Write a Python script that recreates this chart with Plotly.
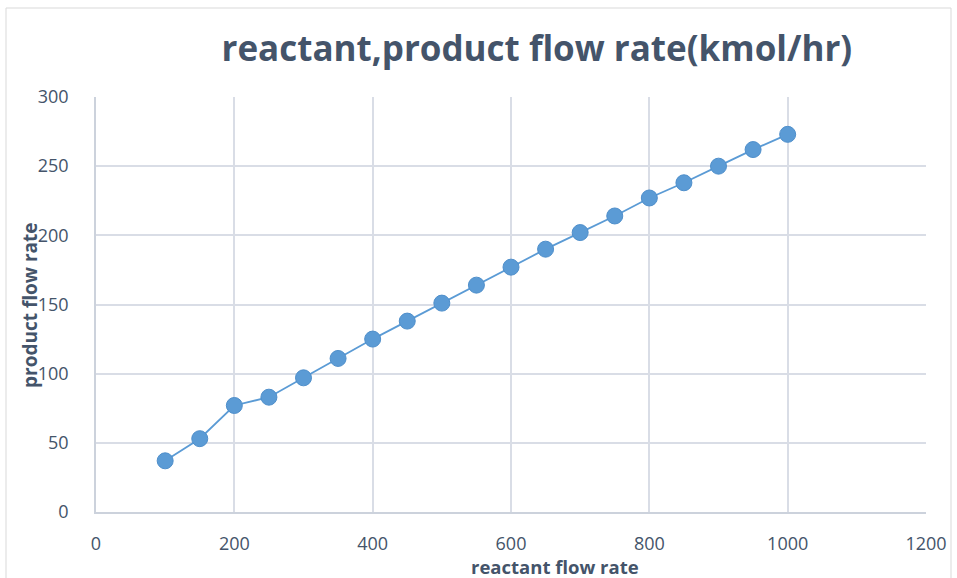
import plotly.graph_objects as go

reactant_flow = [100, 150, 200, 250, 300, 350, 400, 450, 500, 550, 600, 650, 700, 750, 800, 850, 900, 950, 1000]
product_flow = [37, 53, 77, 83, 97, 111, 125, 138, 151, 164, 177, 190, 202, 214, 227, 238, 250, 262, 273]

x_ticks = [0, 200, 400, 600, 800, 1000, 1200]
y_ticks = [0, 50, 100, 150, 200, 250, 300]

txt = "#44546a"
grid = "#d9dde6"
font_family = "Open Sans, Lato, sans-serif"

fig = go.Figure()
fig.add_trace(go.Scatter(
    x=reactant_flow, y=product_flow, mode="lines+markers",
    line=dict(color="#5b9bd5", width=1.8),
    marker=dict(color="#5b9bd5", size=16, line=dict(color="#4f8fcb", width=1)),
    showlegend=False,
))

fig.update_layout(
    width=957, height=578,
    margin=dict(l=96, r=31, t=97, b=66),
    paper_bgcolor="white", plot_bgcolor="white",
    font=dict(family=font_family, color=txt),
    title=dict(text="<b>reactant,product flow rate(kmol/hr)</b>", x=0.561, xanchor="center",
               y=0.915, yanchor="middle", font=dict(size=35, color=txt, family=font_family)),
    xaxis=dict(range=[0, 1200], tickvals=x_ticks, ticktext=[str(v) for v in x_ticks],
               showgrid=True, gridcolor=grid, gridwidth=1.5,
               showline=True, linecolor="#ccd2dc", linewidth=1.5,
               zeroline=False, ticks="", ticklabelstandoff=15, automargin=False,
               tickfont=dict(size=18, color=txt)),
    yaxis=dict(range=[0, 300], tickvals=y_ticks, ticktext=[str(v) for v in y_ticks],
               showgrid=True, gridcolor=grid, gridwidth=1.5,
               showline=True, linecolor="#ccd2dc", linewidth=1.5,
               zeroline=False, ticks="", ticklabelstandoff=22, automargin=False,
               tickfont=dict(size=18, color=txt)),
    annotations=[
        dict(text="<b>reactant flow rate</b>", xref="paper", yref="paper",
             x=(555 - 96) / 830, y=-(566 - 512) / 415, xanchor="center", yanchor="middle",
             showarrow=False, font=dict(size=18.5, color=txt, family=font_family)),
        dict(text="<b>product flow rate</b>", xref="paper", yref="paper",
             x=-(96 - 30) / 830, y=(512 - 305) / 415, xanchor="center", yanchor="middle",
             textangle=-90, showarrow=False, font=dict(size=19, color=txt, family=font_family)),
    ],
)

fig.add_shape(type="rect", xref="paper", yref="paper",
              x0=-96/830 + 6/830, x1=1 + 25/830, y0=-66/415 - 5/415, y1=1 + 89/415,
              line=dict(color="#d9d9d9", width=1), fillcolor="rgba(0,0,0,0)", layer="below")

fig.write_html("out.html")
